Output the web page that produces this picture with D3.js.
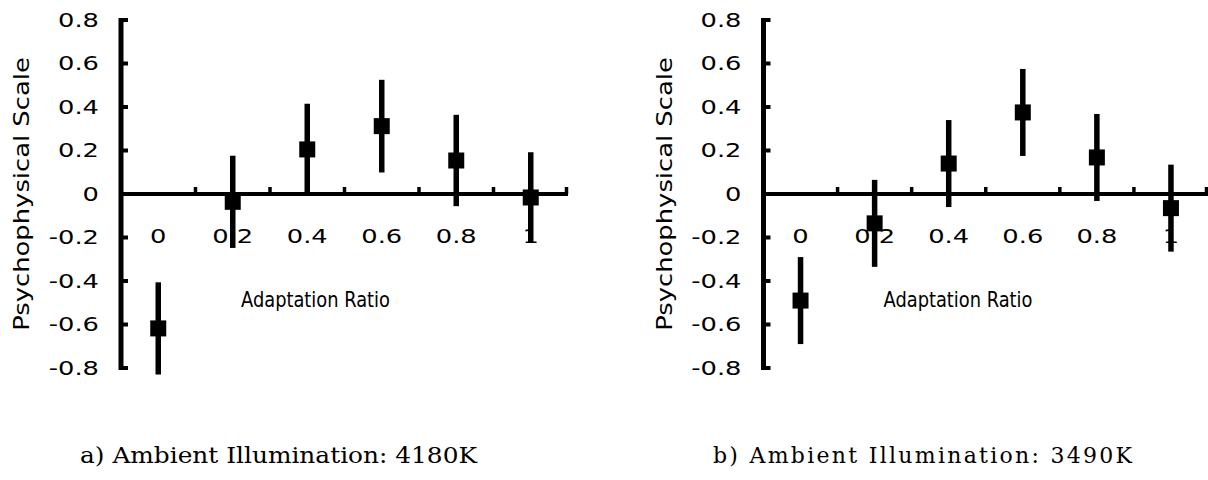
<!DOCTYPE html>
<html>
<head>
<meta charset="utf-8">
<script src="https://cdn.jsdelivr.net/npm/d3@7"></script>
<style>
  html, body { margin: 0; padding: 0; background: #fff; }
  svg { display: block; }
</style>
</head>
<body>
<svg id="chart" width="1208" height="480"></svg>
<script>
// ---- data ----
const categories = ["0", "0.2", "0.4", "0.6", "0.8", "1"];
const yTicks = [0.8, 0.6, 0.4, 0.2, 0, -0.2, -0.4, -0.6, -0.8];
const yTickLabels = ["0.8", "0.6", "0.4", "0.2", "0", "-0.2", "-0.4", "-0.6", "-0.8"];
const meansA = [-0.618, -0.036, 0.205, 0.312, 0.154, -0.016];
const errA   = [0.212, 0.212, 0.21, 0.213, 0.21, 0.208];
const meansB = [-0.49, -0.135, 0.14, 0.375, 0.168, -0.065];
const errB   = [0.2, 0.2, 0.2, 0.2, 0.2, 0.2];
const captions = ["a) Ambient Illumination: 4180K", "b) Ambient Illumination: 3490K"];
const yTitle = "Psychophysical Scale";
const xTitle = "Adaptation Ratio";

const svg = d3.select("#chart");
const SANS = "DejaVu Sans";

const panels = [
  { x0: 121, x1: 568, means: meansA, errs: errA, caption: captions[0], capX: 80, capW: 397, capAdjust: "spacingAndGlyphs" },
  { x0: 763.5, x1: 1208, means: meansB, errs: errB, caption: captions[1], capX: 713, capW: 419, capAdjust: "spacing" }
];

const y = d3.scaleLinear().domain([-0.8, 0.8]).range([368, 20]);

function stretchedText(g, txt, x, yy, opts) {
  return g.append("text")
    .attr("font-family", SANS)
    .attr("font-size", opts.size)
    .attr("fill", "#000")
    .attr("text-anchor", opts.anchor || "start")
    .attr("dominant-baseline", "central")
    .attr("transform", `translate(${x},${yy})` + (opts.rotate ? ` rotate(${opts.rotate})` : "") + ` scale(${opts.stretch},1)`)
    .text(txt);
}

panels.forEach(p => {
  const g = svg.append("g");
  const x = d3.scaleBand().domain(categories).range([p.x0, p.x1]).padding(0);

  // y axis line + ticks
  g.append("line").attr("x1", p.x0).attr("x2", p.x0)
    .attr("y1", y(0.8) - 2).attr("y2", y(-0.8) + 2)
    .attr("stroke", "#000").attr("stroke-width", 5);
  g.selectAll(".ytick").data(yTicks).enter().append("line")
    .attr("x1", p.x0).attr("x2", p.x0 + 7)
    .attr("y1", d => y(d)).attr("y2", d => y(d))
    .attr("stroke", "#000").attr("stroke-width", 4);

  // y tick labels
  yTicks.forEach((d, i) => {
    stretchedText(g, yTickLabels[i], p.x0 - 22, y(d), { size: 19.5, anchor: "end", stretch: 1.32 });
  });

  // x axis line at 0
  g.append("line").attr("x1", p.x0).attr("x2", p.x1)
    .attr("y1", y(0)).attr("y2", y(0))
    .attr("stroke", "#000").attr("stroke-width", 4);
  const bounds = categories.slice(1).map(c => x(c)).concat([p.x1 - 1.5]);
  g.selectAll(".xtick").data(bounds).enter().append("line")
    .attr("x1", d => d).attr("x2", d => d)
    .attr("y1", y(0)).attr("y2", y(0) - 7)
    .attr("stroke", "#000").attr("stroke-width", 3.5);

  // x tick labels
  categories.forEach(c => {
    stretchedText(g, c, x(c) + x.bandwidth() / 2, 236, { size: 19.5, anchor: "middle", stretch: 1.32 });
  });

  // error bars
  g.selectAll(".err").data(p.means).enter().append("line")
    .attr("x1", (d, i) => x(categories[i]) + x.bandwidth() / 2)
    .attr("x2", (d, i) => x(categories[i]) + x.bandwidth() / 2)
    .attr("y1", (d, i) => y(d + p.errs[i]))
    .attr("y2", (d, i) => y(d - p.errs[i]))
    .attr("stroke", "#000").attr("stroke-width", 5.5);

  // markers
  g.selectAll(".mk").data(p.means).enter().append("rect")
    .attr("x", (d, i) => x(categories[i]) + x.bandwidth() / 2 - 8)
    .attr("y", d => y(d) - 8)
    .attr("width", 16).attr("height", 16)
    .attr("fill", "#000");

  // axis titles
  stretchedText(g, yTitle, p.x0 - 99, y(0), { size: 20.5, anchor: "middle", rotate: -90, stretch: 1.26 });
  stretchedText(g, xTitle, p.x0 + 120, 300, { size: 21, anchor: "start", stretch: 0.85 });

  // caption
  g.append("text")
    .attr("x", p.capX).attr("y", 463)
    .attr("font-family", "DejaVu Serif")
    .attr("font-size", 22)
    .attr("fill", "#000")
    .attr("textLength", p.capW)
    .attr("lengthAdjust", p.capAdjust)
    .text(p.caption);
});
</script>
</body>
</html>
